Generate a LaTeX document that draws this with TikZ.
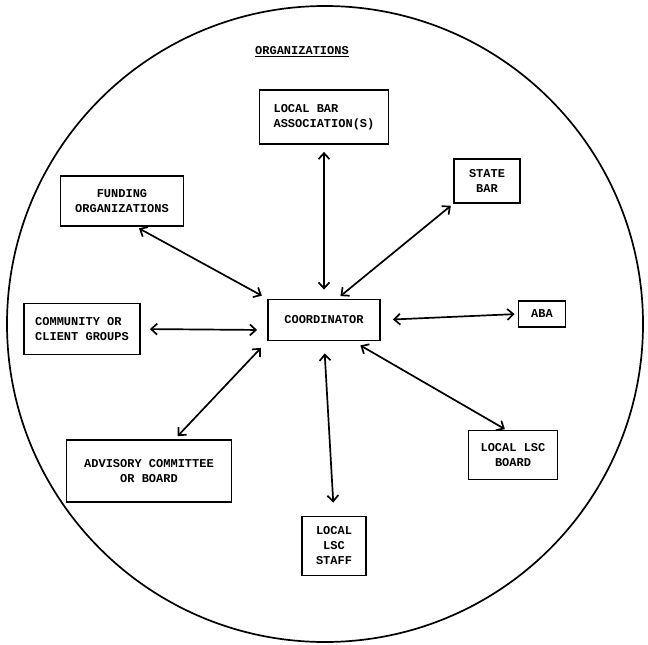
\documentclass[tikz,border=0pt]{standalone}
\usepackage{fontspec}
\setmonofont{Liberation Mono}
\usetikzlibrary{arrows.meta}

\begin{document}
\begin{tikzpicture}[x=1pt,y=1pt,
  orgbox/.style={draw, line width=1.8pt, inner sep=2pt, align=center,
    font=\ttfamily\bfseries\fontsize{12}{15}\selectfont},
  link/.style={<->, line width=1.7pt, >={Straight Barb[length=6pt,width=11pt,line width=1.7pt]}}]
\useasboundingbox (0,0) rectangle (648,-645);
\draw [line width=1.7pt] (325,-324) circle (318);
\node (title) at (302,-52) {\ttfamily\bfseries\fontsize{12}{14}\selectfont\underline{ORGANIZATIONS}};
% boxes
\node [orgbox, minimum width=129, minimum height=54, align=left] (lbar) at (324,-117) {LOCAL BAR\\ASSOCIATION(S)};
\node [orgbox, minimum width=66, minimum height=44] (sbar) at (487,-181) {STATE\\BAR};
\node [orgbox, minimum width=123, minimum height=50] (fund) at (122,-201) {FUNDING\\ORGANIZATIONS};
\node [orgbox, minimum width=116, minimum height=51, align=left] (comm) at (82,-329) {COMMUNITY OR\\CLIENT GROUPS};
\node [orgbox, minimum width=112, minimum height=41] (coord) at (324,-320) {COORDINATOR};
\node [orgbox, minimum width=47, minimum height=26] (aba) at (542,-314) {ABA};
\node [orgbox, minimum width=165, minimum height=62] (adv) at (149,-471) {ADVISORY COMMITTEE\\OR BOARD};
\node [orgbox, minimum width=89, minimum height=49] (board) at (513,-455) {LOCAL LSC\\BOARD};
\node [orgbox, minimum width=64, minimum height=59] (staff) at (334,-546) {LOCAL\\LSC\\STAFF};
% links to the coordinator
\draw [link, shorten <=7pt, shorten >=9pt] (lbar.south) -- (coord.north);
\draw [link, shorten <=3pt, shorten >=4pt] (sbar.south west) -- (coord.58);
\draw [link, shorten <=3pt, shorten >=6pt] (fund.299) -- (coord.north west);
\draw [link, shorten <=9pt, shorten >=10pt] (comm.east) -- (coord.190);
\draw [link, shorten <=12pt, shorten >=3pt] (coord.east) -- (aba.west);
\draw [link, shorten <=9pt, shorten >=4pt] (coord.south west) -- (adv.51);
\draw [link, shorten <=12pt, shorten >=13pt] (coord.south) -- (staff.north);
\draw [link, shorten <=8pt, shorten >=1pt] (coord.-36) -- (board.106);
\end{tikzpicture}
\end{document}
